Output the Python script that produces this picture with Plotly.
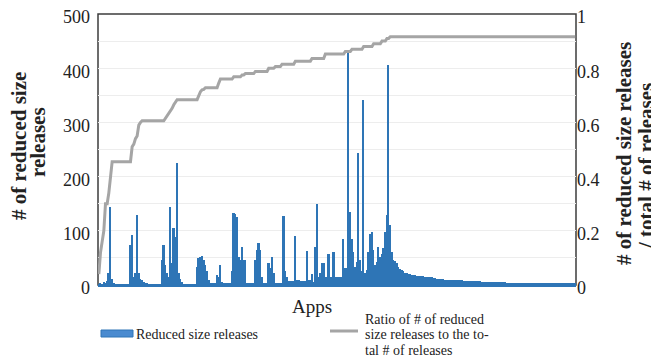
import plotly.graph_objects as go

# Number of reduced-size releases per app (bars, left axis)
release_counts = [
    1, 4, 1, 6, 2, 8, 22, 144, 12, 2,
    1, 1, 1, 1, 1, 1, 1, 1, 1,
    74, 92, 15, 22, 129, 22, 12, 9, 5, 4, 2,
    1, 1, 1, 1, 1, 1, 1, 1,
    46, 74, 37, 22, 15, 144, 40, 105, 89, 225, 22, 12, 5,
    1, 1, 1, 1, 1, 1, 1, 1,
    34, 49, 52, 53, 46, 37, 25, 10,
    3, 3, 3, 3,
    18, 15, 37, 5,
    3, 3, 3, 3, 3,
    25,
    132, 131, 126, 52, 46, 71, 46, 46,
    3, 3, 3, 3, 3,
    46, 65, 77, 65, 15,
    4, 4, 4,
    41, 31, 52, 22,
    4, 4, 4, 4, 4,
    127, 25, 15,
    8, 8, 8, 8,
    90,
    9, 9, 8, 8, 8, 8,
    63, 9, 9, 20, 6, 71, 150, 15, 23, 40, 40, 14, 14,
    57, 15, 15, 60, 15, 15, 15, 15, 15, 84, 31, 31,
    429, 135, 84, 60, 34, 43, 243, 46, 25, 341, 22, 28, 61, 95, 98, 65, 37, 43,
    71, 52, 57, 68, 98, 130, 405, 110, 60,
    47, 44, 40, 34, 30, 27, 25, 23, 22,
    20, 20, 19, 19,
    18, 17, 17, 16,
    16, 16, 15, 15,
    14, 14, 14, 13, 13, 12,
    12, 11, 11, 11, 10, 10,
    10, 10, 10, 9, 9, 9, 9, 9,
    9, 8, 8, 8, 8, 8,
    8, 7, 7, 7, 7, 7, 6, 6,
    6, 6, 6, 6, 5, 5,
    5, 5, 5, 5, 5, 5, 5, 4, 4, 4,
    4, 4, 4, 4, 3, 3, 3, 3,
    2, 2, 2, 2, 2, 2, 2, 2, 2, 2, 2, 2, 2, 2, 2, 2,
    2, 2, 2, 2, 2, 2, 2, 2, 2, 2, 2, 2, 2, 2, 2,
]
apps = list(range(1, len(release_counts) + 1))

# Ratio of reduced-size releases to total releases (line, right axis), at its break points
ratio_apps = [
    1, 2, 3, 4, 5, 6, 7, 8, 9, 20, 21, 22, 23, 24, 25, 26, 27, 40,
    41, 42, 43, 44, 45, 46, 47, 48, 60, 61, 62, 63, 64, 65, 72, 73, 74,
    81, 82, 86, 87, 88, 89, 94, 95, 102, 103, 106, 107, 110, 111, 118,
    119, 128, 129, 136, 137, 148, 149, 152, 153, 159, 160, 165, 166, 170,
    171, 173, 174, 175, 176, 287,
]
ratio_values = [
    0.04, 0.12, 0.16, 0.20, 0.30, 0.30, 0.34, 0.40, 0.455, 0.455, 0.51, 0.52,
    0.54, 0.55, 0.59, 0.60, 0.606, 0.606,
    0.615, 0.625, 0.632, 0.64, 0.652, 0.665, 0.675, 0.684, 0.684, 0.70, 0.713,
    0.72, 0.722, 0.728, 0.728, 0.745, 0.76,
    0.76, 0.768, 0.768, 0.775, 0.775, 0.78, 0.78, 0.788, 0.788, 0.80, 0.80,
    0.806, 0.806, 0.815, 0.815,
    0.826, 0.826, 0.836, 0.836, 0.852, 0.852, 0.862, 0.862, 0.87, 0.87, 0.88,
    0.88, 0.89, 0.89,
    0.90, 0.90, 0.91, 0.91, 0.916, 0.916,
]

y_ticks = [0, 100, 200, 300, 400, 500]
y2_ticks = [0, 0.2, 0.4, 0.6, 0.8, 1]
y2_labels = ["0", "0.2", "0.4", "0.6", "0.8", "1"]

bar_name = "Reduced size releases"
ratio_name_lines = ["Ratio of # of reduced", "size releases to the to-", "tal # of releases"]

FONT = "Liberation Serif"
BLUE = "#2E75B6"
LEGEND_BLUE = "#4A8BD0"
GRAY = "#A5A5A5"
GRID = "#EDEDED"


def px_x(p):
    return (p - 98) / 478.0


def px_y(p):
    return (285 - p) / 271.0


fig = go.Figure()
fig.add_trace(go.Bar(
    x=apps, y=release_counts, name=bar_name,
    marker=dict(color=BLUE, line=dict(width=0)), yaxis="y",
))
fig.add_trace(go.Scatter(
    x=ratio_apps, y=ratio_values, mode="lines", name=" ".join(ratio_name_lines),
    line=dict(color=GRAY, width=3), yaxis="y2",
))

# legend drawn below the plot: keys + text
legend_shapes = [
    dict(type="rect", xref="paper", yref="paper", x0=px_x(101), x1=px_x(133),
         y0=px_y(337), y1=px_y(330), fillcolor=LEGEND_BLUE, line=dict(color=BLUE, width=1)),
    dict(type="line", xref="paper", yref="paper", x0=px_x(330), x1=px_x(358),
         y0=px_y(331), y1=px_y(331), line=dict(color=GRAY, width=3)),
]
legend_texts = [dict(text=bar_name, xref="paper", yref="paper", x=px_x(134), y=px_y(334),
                     xanchor="left", yanchor="middle", showarrow=False, font=dict(size=14))]
for k, line in enumerate(ratio_name_lines):
    legend_texts.append(dict(text=line, xref="paper", yref="paper", x=px_x(364),
                             y=px_y(319 + 15.5 * k), xanchor="left", yanchor="middle",
                             showarrow=False, font=dict(size=14), borderpad=0))

fig.update_layout(
    width=651, height=350,
    margin=dict(l=90, r=83, t=6, b=73, autoexpand=False),
    plot_bgcolor="white", paper_bgcolor="white",
    bargap=0, showlegend=False,
    font=dict(family=FONT, size=18, color="#222222"),
    xaxis=dict(range=[0.5, 287.5], showticklabels=False, ticks="", showgrid=False,
               zeroline=False, showline=True, linecolor=BLUE, linewidth=2),
    yaxis=dict(range=[0, 500], tickvals=y_ticks, showgrid=True, gridcolor=GRID, gridwidth=1,
               minor=dict(dtick=50, tick0=0, showgrid=True, gridcolor=GRID, gridwidth=1),
               zeroline=False, ticks="", ticklabelstandoff=7, showline=False,
               ticklabelshift=3, ticklabeloverflow="allow"),
    yaxis2=dict(range=[0, 1], overlaying="y", side="right", tickvals=y2_ticks, ticktext=y2_labels,
                showgrid=False, zeroline=False, ticks="", ticklabelstandoff=0, showline=False,
                ticklabelshift=3, ticklabeloverflow="allow"),
    shapes=[dict(type="rect", xref="paper", yref="paper", x0=0, x1=1, y0=0, y1=1,
                 line=dict(color="#3C3C3C", width=1.5), layer="below")] + legend_shapes,
    annotations=[
        dict(text="<b># of reduced size</b>", xref="paper", yref="paper",
             x=px_x(19), y=px_y(146), xanchor="center", yanchor="middle", textangle=-90,
             showarrow=False, font=dict(size=21)),
        dict(text="<b>releases</b>", xref="paper", yref="paper",
             x=px_x(38), y=px_y(142), xanchor="center", yanchor="middle", textangle=-90,
             showarrow=False, font=dict(size=21)),
        dict(text="<b># of reduced size releases</b>", xref="paper", yref="paper",
             x=px_x(624), y=px_y(154), xanchor="center", yanchor="middle", textangle=-90,
             showarrow=False, font=dict(size=21)),
        dict(text="<b>/ total # of releases</b>", xref="paper", yref="paper",
             x=px_x(646), y=px_y(166), xanchor="center", yanchor="middle", textangle=-90,
             showarrow=False, font=dict(size=21)),
        dict(text="Apps", xref="paper", yref="paper", x=px_x(312), y=px_y(306),
             xanchor="center", yanchor="middle", showarrow=False, font=dict(size=19)),
    ] + legend_texts,
)

fig.write_html("out.html")
